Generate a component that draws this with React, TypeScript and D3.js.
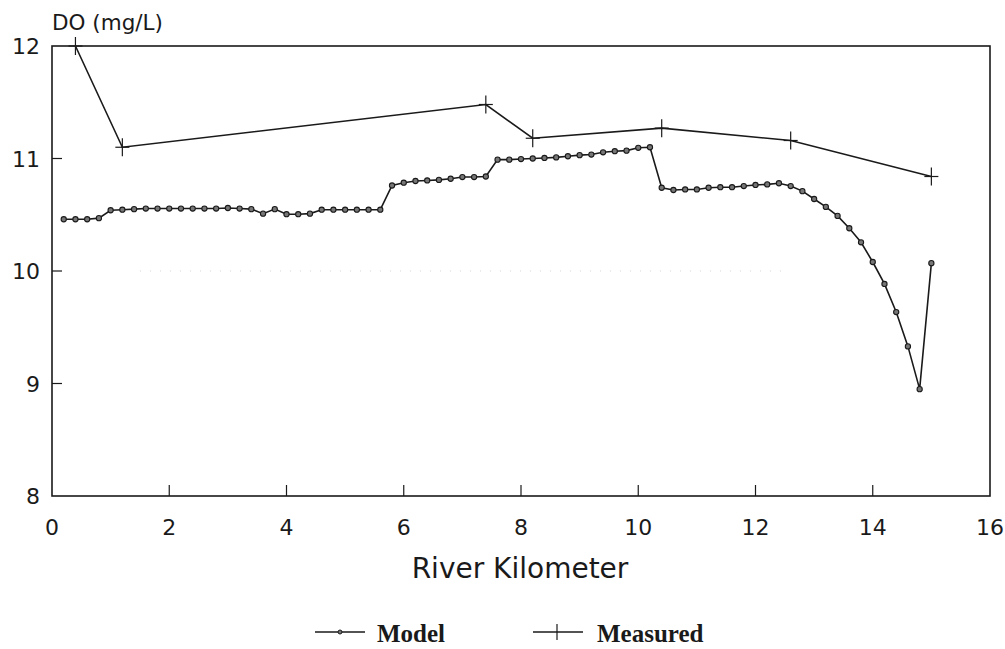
import React from "react";
import * as d3 from "d3";

// River kilometer positions of the model output (every 0.2 km)
const modelKm: number[] = [
  0.2, 0.4, 0.6, 0.8, 1.0, 1.2, 1.4, 1.6, 1.8, 2.0, 2.2, 2.4, 2.6, 2.8, 3.0, 3.2, 3.4, 3.6, 3.8, 4.0,
  4.2, 4.4, 4.6, 4.8, 5.0, 5.2, 5.4, 5.6, 5.8, 6.0, 6.2, 6.4, 6.6, 6.8, 7.0, 7.2, 7.4, 7.6, 7.8, 8.0,
  8.2, 8.4, 8.6, 8.8, 9.0, 9.2, 9.4, 9.6, 9.8, 10.0, 10.2, 10.4, 10.6, 10.8, 11.0, 11.2, 11.4, 11.6,
  11.8, 12.0, 12.2, 12.4, 12.6, 12.8, 13.0, 13.2, 13.4, 13.6, 13.8, 14.0, 14.2, 14.4, 14.6, 14.8, 15.0,
];

// Modelled dissolved oxygen (mg/L)
const modelDO: number[] = [
  10.46, 10.46, 10.46, 10.47, 10.54, 10.545, 10.55, 10.555, 10.555, 10.555, 10.555, 10.555, 10.555,
  10.555, 10.56, 10.555, 10.55, 10.51, 10.55, 10.505, 10.505, 10.51, 10.545, 10.545, 10.545, 10.545,
  10.545, 10.545, 10.76, 10.785, 10.8, 10.805, 10.81, 10.82, 10.835, 10.835, 10.84, 10.99, 10.99,
  10.995, 11.0, 11.005, 11.01, 11.02, 11.03, 11.035, 11.055, 11.065, 11.07, 11.095, 11.1, 10.74,
  10.72, 10.725, 10.725, 10.74, 10.745, 10.745, 10.755, 10.765, 10.77, 10.78, 10.755, 10.71, 10.64,
  10.57, 10.49, 10.38, 10.255, 10.08, 9.885, 9.635, 9.33, 8.95, 10.07,
];

// Field measurements
const measuredKm: number[] = [0.4, 1.2, 7.4, 8.2, 10.4, 12.6, 15.0];
const measuredDO: number[] = [12.0, 11.1, 11.48, 11.18, 11.27, 11.16, 10.84];

const xTicks: number[] = [0, 2, 4, 6, 8, 10, 12, 14, 16];
const yTicks: number[] = [8, 9, 10, 11, 12];

const W = 1005;
const H = 649;
const margin = { left: 52, right: 15, top: 46, bottom: 153 };

const axisFont = "'DejaVu Sans', sans-serif";
const legendFont = "'Liberation Serif', 'Times New Roman', serif";

export default function App() {
  const x = d3.scaleLinear().domain([0, 16]).range([margin.left, W - margin.right]);
  const y = d3.scaleLinear().domain([8, 12]).range([H - margin.bottom, margin.top]);

  const line = d3
    .line<[number, number]>()
    .x((d) => x(d[0]))
    .y((d) => y(d[1]));

  const modelPts: [number, number][] = modelKm.map((k, i) => [k, modelDO[i]]);
  const measPts: [number, number][] = measuredKm.map((k, i) => [k, measuredDO[i]]);

  const x0 = x(0);
  const x1 = x(16);
  const yb = y(8);
  const yt = y(12);
  const ink = "#1a1a1a";

  const cross = (cx: number, cy: number, key: string | number, h = 7, v = 9) => (
    <g key={key} stroke={ink} strokeWidth={1.2}>
      {h > 0 && <line x1={cx - h} x2={cx + h} y1={cy} y2={cy} />}
      <line x1={cx} x2={cx} y1={cy - v} y2={cy + v} />
    </g>
  );

  return (
    <svg
      width={W}
      height={H}
      viewBox={`0 0 ${W} ${H}`}
      style={{ position: "absolute", left: 0, top: 0, background: "#fff" }}
    >
      {/* faint reference line at 10 mg/L */}
      <line
        x1={x(1.5)}
        x2={x(12.5)}
        y1={y(10)}
        y2={y(10)}
        stroke="#d4d4d4"
        strokeWidth={1}
        strokeDasharray="1 9"
      />

      {/* plot frame */}
      <rect
        x={x0}
        y={yt}
        width={x1 - x0}
        height={yb - yt}
        fill="none"
        stroke={ink}
        strokeWidth={1.6}
      />

      {/* inward ticks */}
      {xTicks.slice(1, -1).map((t) => (
        <line key={`xt${t}`} x1={x(t)} x2={x(t)} y1={yb} y2={yb - 11} stroke={ink} strokeWidth={1.2} />
      ))}
      {yTicks.slice(1, -1).map((t) => (
        <line key={`yt${t}`} x1={x0} x2={x0 + 10} y1={y(t)} y2={y(t)} stroke={ink} strokeWidth={1.2} />
      ))}

      {/* tick labels */}
      {xTicks.map((t) => (
        <text
          key={`xl${t}`}
          x={x(t)}
          y={535}
          textAnchor="middle"
          fontFamily={axisFont}
          fontSize={22}
          fill={ink}
        >
          {t}
        </text>
      ))}
      {yTicks.map((t) => (
        <text
          key={`yl${t}`}
          x={40}
          y={y(t) + 8}
          textAnchor="end"
          fontFamily={axisFont}
          fontSize={22}
          fill={ink}
        >
          {t}
        </text>
      ))}

      {/* axis titles */}
      <text x={52} y={30} fontFamily={axisFont} fontSize={21.5} fill={ink}>
        DO (mg/L)
      </text>
      <text
        x={520}
        y={578}
        textAnchor="middle"
        fontFamily={axisFont}
        fontSize={28}
        fill={ink}
      >
        River Kilometer
      </text>

      {/* measured series */}
      <path d={line(measPts) ?? ""} fill="none" stroke={ink} strokeWidth={1.6} />
      {measPts.map((d, i) => cross(x(d[0]), y(d[1]), `m${i}`))}

      {/* model series */}
      <path d={line(modelPts) ?? ""} fill="none" stroke={ink} strokeWidth={1.6} />
      {modelPts.map((d, i) => (
        <circle
          key={`p${i}`}
          cx={x(d[0])}
          cy={y(d[1])}
          r={2.6}
          fill="#777"
          stroke={ink}
          strokeWidth={1.1}
        />
      ))}

      {/* legend */}
      <g>
        <line x1={315} x2={365} y1={632} y2={632} stroke={ink} strokeWidth={1.3} />
        <circle cx={340} cy={632} r={2} fill="#777" stroke={ink} strokeWidth={1} />
        <text x={377} y={642} fontFamily={legendFont} fontWeight="bold" fontSize={25} fill={ink}>
          Model
        </text>
        <line x1={533} x2={583} y1={632} y2={632} stroke={ink} strokeWidth={1.3} />
        {cross(557, 632, "legm", 0, 8)}
        <text x={597} y={642} fontFamily={legendFont} fontWeight="bold" fontSize={25} fill={ink}>
          Measured
        </text>
      </g>
    </svg>
  );
}
